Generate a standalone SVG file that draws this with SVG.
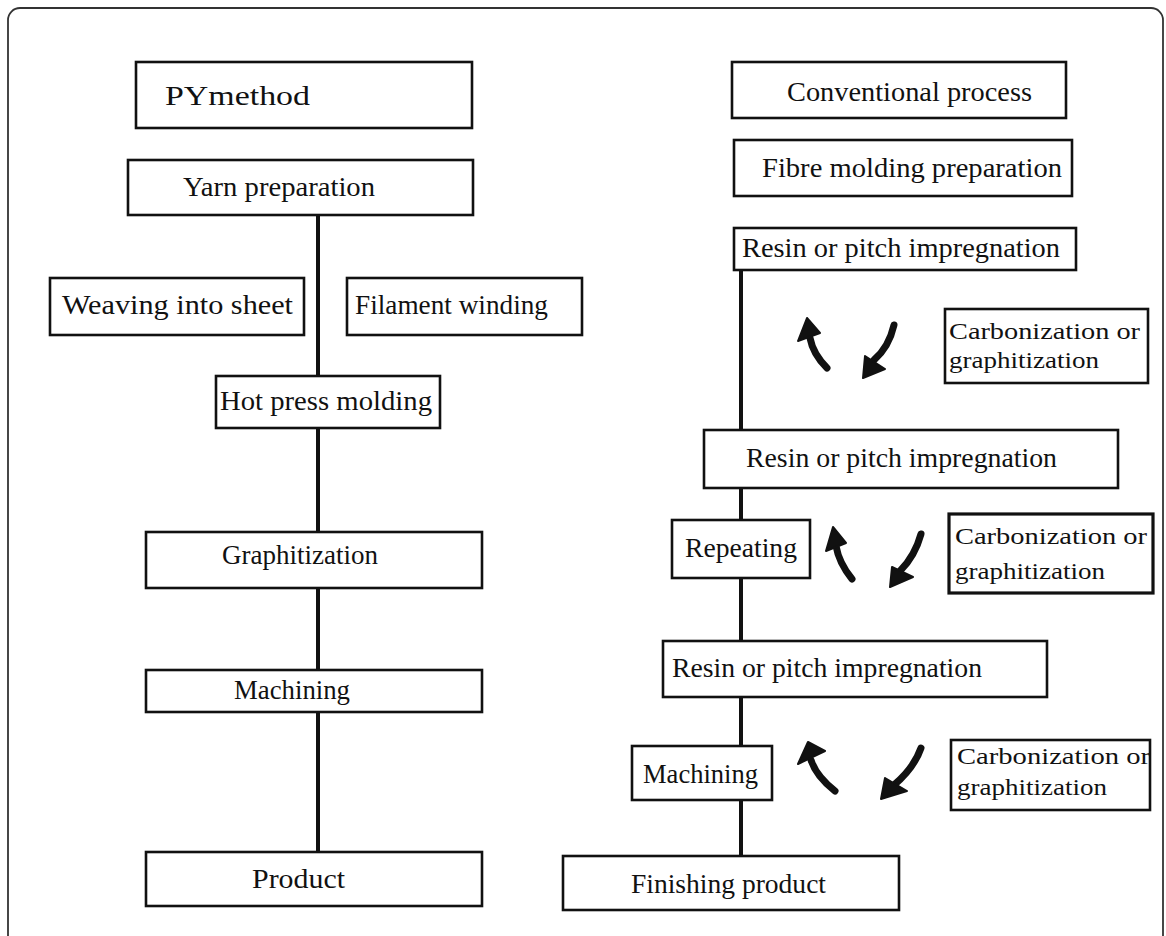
<svg xmlns="http://www.w3.org/2000/svg" width="1166" height="936" viewBox="0 0 1166 936">
<style>
.box{fill:#fff;stroke:#111;stroke-width:2.6}
.t{font-family:"Liberation Serif","Times New Roman",serif;font-size:28px;fill:#111}
.s{font-family:"Liberation Serif","Times New Roman",serif;font-size:24px;fill:#111}
.ln{stroke:#111;stroke-width:4;fill:none}
.sh{stroke:#111;stroke-width:7;fill:none;stroke-linecap:round}
.hd{fill:#111;stroke:#111;stroke-width:2;stroke-linejoin:round}
</style>
<rect width="1166" height="936" fill="#fff"/>
<rect x="8" y="8" width="1155" height="940" rx="12" fill="none" stroke="#333" stroke-width="1.8"/>
<g id="connectors">
<line class="ln" x1="318" y1="214" x2="318" y2="853"/>
<line class="ln" x1="741" y1="269" x2="741" y2="857"/>
<g id="arrows1">
<path class="sh" d="M827,368 Q813,354 810,338"/>
<polygon class="hd" points="798,341 807,318 820,333"/>
<path class="sh" d="M894,325 Q889,347 874,360"/>
<polygon class="hd" points="865,356 885,369 863,378"/>
</g>
<g id="arrows2">
<path class="sh" d="M852,579 Q839,563 836,546"/>
<polygon class="hd" points="826,551 833,527 846,543"/>
<path class="sh" d="M921,534 Q915,556 900,571"/>
<polygon class="hd" points="892,567 913,577 890,587"/>
</g>
<g id="arrows3">
<path class="sh" d="M835,791 Q816,776 811,760"/>
<polygon class="hd" points="798,764 808,742 825,751"/>
<path class="sh" d="M921,748 Q914,768 894,785"/>
<polygon class="hd" points="885,778 907,791 881,799"/>
</g>
</g>
<g id="n-pymethod"><rect class="box" x="136" y="62" width="336" height="66"/><text class="t" x="165" y="105" textLength="145" lengthAdjust="spacingAndGlyphs">PYmethod</text></g>
<g id="n-yarn"><rect class="box" x="128" y="160" width="345" height="55"/><text class="t" x="183" y="196" textLength="192" lengthAdjust="spacingAndGlyphs">Yarn preparation</text></g>
<g id="n-weaving"><rect class="box" x="50" y="278" width="254" height="57"/><text class="t" x="62" y="314" textLength="231" lengthAdjust="spacingAndGlyphs">Weaving into sheet</text></g>
<g id="n-filament"><rect class="box" x="347" y="278" width="235" height="57"/><text class="t" x="355" y="314" textLength="193" lengthAdjust="spacingAndGlyphs">Filament winding</text></g>
<g id="n-hotpress"><rect class="box" x="216" y="376" width="224" height="52"/><text class="t" x="220" y="410" textLength="212" lengthAdjust="spacingAndGlyphs">Hot press molding</text></g>
<g id="n-graph"><rect class="box" x="146" y="532" width="336" height="56"/><text class="t" x="222" y="564" textLength="156" lengthAdjust="spacingAndGlyphs">Graphitization</text></g>
<g id="n-mach1"><rect class="box" x="146" y="670" width="336" height="42"/><text class="t" x="234" y="699" textLength="116" lengthAdjust="spacingAndGlyphs">Machining</text></g>
<g id="n-product"><rect class="box" x="146" y="852" width="336" height="54"/><text class="t" x="252" y="888" textLength="93" lengthAdjust="spacingAndGlyphs">Product</text></g>
<g id="n-conv"><rect class="box" x="732" y="62" width="334" height="56"/><text class="t" x="787" y="101" textLength="245" lengthAdjust="spacingAndGlyphs">Conventional process</text></g>
<g id="n-fibre"><rect class="box" x="734" y="140" width="338" height="56"/><text class="t" x="762" y="177" textLength="300" lengthAdjust="spacingAndGlyphs">Fibre molding preparation</text></g>
<g id="n-resin1"><rect class="box" x="734" y="228" width="342" height="42"/><text class="t" x="742" y="257" textLength="318" lengthAdjust="spacingAndGlyphs">Resin or pitch impregnation</text></g>
<g id="n-carb1"><rect class="box" x="945" y="309" width="203" height="74"/><text class="s" x="949" y="339" textLength="191" lengthAdjust="spacingAndGlyphs">Carbonization or</text><text class="s" x="949" y="368" textLength="150" lengthAdjust="spacingAndGlyphs">graphitization</text></g>
<g id="n-resin2"><rect class="box" x="704" y="430" width="414" height="58"/><text class="t" x="746" y="467" textLength="311" lengthAdjust="spacingAndGlyphs">Resin or pitch impregnation</text></g>
<g id="n-repeat"><rect class="box" x="672" y="520" width="138" height="58"/><text class="t" x="685" y="557" textLength="112" lengthAdjust="spacingAndGlyphs">Repeating</text></g>
<g id="n-carb2"><rect class="box" x="949" y="514" width="204" height="79" style="stroke-width:3.2"/><text class="s" x="955" y="544" textLength="192" lengthAdjust="spacingAndGlyphs">Carbonization or</text><text class="s" x="955" y="579" textLength="150" lengthAdjust="spacingAndGlyphs">graphitization</text></g>
<g id="n-resin3"><rect class="box" x="663" y="641" width="384" height="56"/><text class="t" x="672" y="677" textLength="310" lengthAdjust="spacingAndGlyphs">Resin or pitch impregnation</text></g>
<g id="n-mach2"><rect class="box" x="632" y="746" width="140" height="54"/><text class="t" x="643" y="783" textLength="115" lengthAdjust="spacingAndGlyphs">Machining</text></g>
<g id="n-carb3"><rect class="box" x="951" y="740" width="199" height="70"/><text class="s" x="957" y="764" textLength="193" lengthAdjust="spacingAndGlyphs">Carbonization or</text><text class="s" x="957" y="795" textLength="150" lengthAdjust="spacingAndGlyphs">graphitization</text></g>
<g id="n-finish"><rect class="box" x="563" y="856" width="336" height="54"/><text class="t" x="631" y="893" textLength="195" lengthAdjust="spacingAndGlyphs">Finishing product</text></g>
</svg>
